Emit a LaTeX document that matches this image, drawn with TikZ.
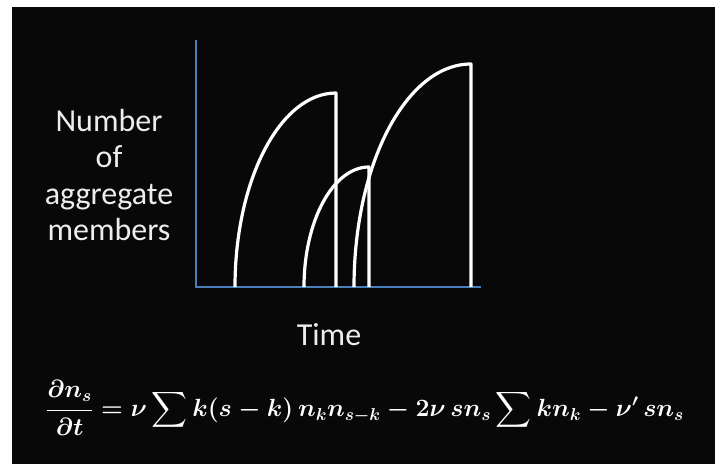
\documentclass[tikz,border=0pt]{standalone}
\usepackage{fontspec}
\setmainfont{Carlito}
\usepackage{amsmath}
\definecolor{axisblue}{HTML}{4A7EBB}
\newcommand{\eqtext}{\ensuremath{\displaystyle \frac{\partial n_s}{\partial t} = \nu \sum k(s-k)\, n_k n_{s-k} - 2\nu\, s n_s \sum k n_k - \nu'\, s n_s}}
\begin{document}
\begin{tikzpicture}[x=1pt,y=-1pt,
  axisline/.style={draw=axisblue,line width=2.8pt},
  curveline/.style={draw=white,line width=3.2pt,line join=round},
  lbl/.style={text=white!93!black,font=\fontsize{32}{36.5}\selectfont,align=center,inner sep=0pt},
  eqlbl/.style={text=white,font=\fontsize{26}{30}\selectfont\boldmath,inner sep=0pt}]
\useasboundingbox (0,0) rectangle (715,464);
\fill[white] (0,0) rectangle (715,464);
\fill[black!97] (12,7) rectangle (715,464);
% axes
\coordinate (ytop) at (196,40);
\coordinate (orig) at (196,287);
\coordinate (xend) at (481,287);
\draw[axisline] (ytop) -- (orig) -- (xend);
% curves
\draw[curveline] (235,287) arc[start angle=180,end angle=270,x radius=101,y radius=194] -- (336,287);
\draw[curveline] (304,287) arc[start angle=180,end angle=270,x radius=65,y radius=120] -- (369,287);
\draw[curveline] (354,287) arc[start angle=180,end angle=270,x radius=117,y radius=223] -- (471,287);
% labels
\node[lbl,anchor=center] (ylab) at (109,175) {Number\\of\\aggregate\\members};
\node[lbl,anchor=base] (xlab) at (329,345) {Time};
\node[eqlbl] (eq) at (365,408) {\eqtext};
\end{tikzpicture}
\end{document}
